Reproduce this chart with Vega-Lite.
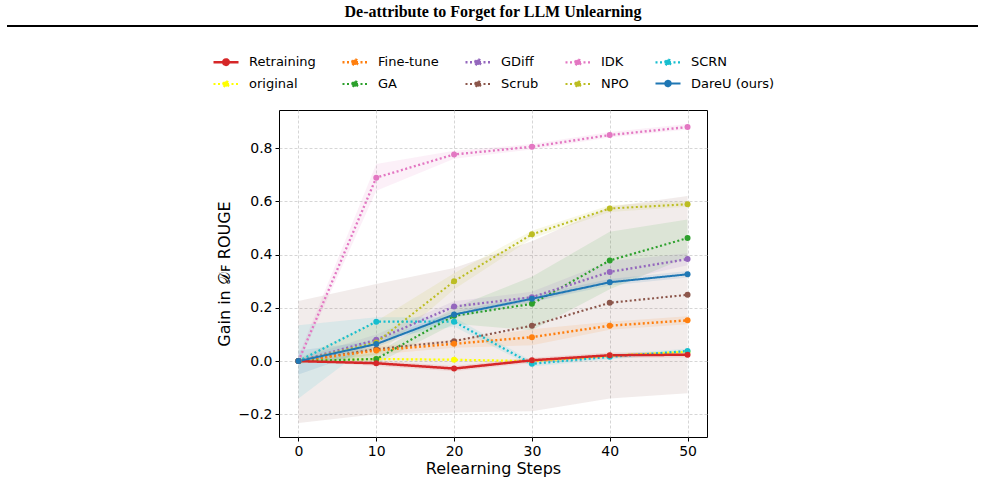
{
  "$schema": "https://vega.github.io/schema/vega-lite/v6.json",
  "width": 428,
  "height": 327,
  "autosize": {"type": "none"},
  "padding": {"left": 279, "top": 110, "right": 278, "bottom": 46},
  "background": "white",
  "title": {"text": "De-attribute to Forget for LLM Unlearning", "font": "Liberation Serif", "fontSize": 16, "fontWeight": "bold", "color": "black", "anchor": "middle", "offset": 5},
  "config": {
    "view": {"stroke": "black", "strokeWidth": 1},
    "axis": {"labelFont": "DejaVu Sans", "labelFontSize": 14, "labelColor": "black", "titleFont": "DejaVu Sans", "titleFontSize": 16, "titleFontWeight": "normal", "titleColor": "black", "tickColor": "black", "tickSize": 4, "domain": false, "grid": true, "gridColor": "#cccccc", "gridDash": [3, 2], "gridWidth": 0.8, "labelPadding": 3},
    "legend": {"labelFont": "DejaVu Sans", "labelFontSize": 13, "labelColor": "black"}
  },
  "data": {"values": [
    {"series": "Scrub", "step": 0, "mean": 0, "lo": -0.232, "hi": 0.226},
    {"series": "Scrub", "step": 10, "mean": 0.045, "lo": -0.2, "hi": 0.29},
    {"series": "Scrub", "step": 20, "mean": 0.075, "lo": -0.193, "hi": 0.35},
    {"series": "Scrub", "step": 30, "mean": 0.133, "lo": -0.188, "hi": 0.45},
    {"series": "Scrub", "step": 40, "mean": 0.219, "lo": -0.14, "hi": 0.58},
    {"series": "Scrub", "step": 50, "mean": 0.249, "lo": -0.121, "hi": 0.62},
    {"series": "original", "step": 0, "mean": 0, "lo": -0.005, "hi": 0.005},
    {"series": "original", "step": 10, "mean": 0.008, "lo": 0.003, "hi": 0.013},
    {"series": "original", "step": 20, "mean": 0.005, "lo": 0.0, "hi": 0.01},
    {"series": "original", "step": 30, "mean": 0.0, "lo": -0.005, "hi": 0.005},
    {"series": "original", "step": 40, "mean": 0.02, "lo": 0.015, "hi": 0.025},
    {"series": "original", "step": 50, "mean": 0.035, "lo": 0.03, "hi": 0.04},
    {"series": "Fine-tune", "step": 0, "mean": 0, "lo": -0.01, "hi": 0.01},
    {"series": "Fine-tune", "step": 10, "mean": 0.04, "lo": 0.025, "hi": 0.055},
    {"series": "Fine-tune", "step": 20, "mean": 0.065, "lo": 0.05, "hi": 0.08},
    {"series": "Fine-tune", "step": 30, "mean": 0.09, "lo": 0.06, "hi": 0.12},
    {"series": "Fine-tune", "step": 40, "mean": 0.133, "lo": 0.118, "hi": 0.148},
    {"series": "Fine-tune", "step": 50, "mean": 0.153, "lo": 0.138, "hi": 0.168},
    {"series": "GA", "step": 0, "mean": 0, "lo": 0, "hi": 0},
    {"series": "GA", "step": 10, "mean": 0.008, "lo": -0.01, "hi": 0.03},
    {"series": "GA", "step": 20, "mean": 0.17, "lo": 0.14, "hi": 0.2},
    {"series": "GA", "step": 30, "mean": 0.215, "lo": 0.116, "hi": 0.317},
    {"series": "GA", "step": 40, "mean": 0.378, "lo": 0.27, "hi": 0.486},
    {"series": "GA", "step": 50, "mean": 0.462, "lo": 0.39, "hi": 0.532},
    {"series": "GDiff", "step": 0, "mean": 0, "lo": -0.01, "hi": 0.01},
    {"series": "GDiff", "step": 10, "mean": 0.08, "lo": 0.06, "hi": 0.1},
    {"series": "GDiff", "step": 20, "mean": 0.205, "lo": 0.185, "hi": 0.225},
    {"series": "GDiff", "step": 30, "mean": 0.24, "lo": 0.22, "hi": 0.26},
    {"series": "GDiff", "step": 40, "mean": 0.335, "lo": 0.295, "hi": 0.375},
    {"series": "GDiff", "step": 50, "mean": 0.383, "lo": 0.36, "hi": 0.405},
    {"series": "IDK", "step": 0, "mean": 0, "lo": -0.01, "hi": 0.02},
    {"series": "IDK", "step": 10, "mean": 0.689, "lo": 0.64, "hi": 0.74},
    {"series": "IDK", "step": 20, "mean": 0.776, "lo": 0.76, "hi": 0.79},
    {"series": "IDK", "step": 30, "mean": 0.805, "lo": 0.795, "hi": 0.815},
    {"series": "IDK", "step": 40, "mean": 0.849, "lo": 0.84, "hi": 0.86},
    {"series": "IDK", "step": 50, "mean": 0.879, "lo": 0.87, "hi": 0.89},
    {"series": "NPO", "step": 0, "mean": 0, "lo": -0.01, "hi": 0.01},
    {"series": "NPO", "step": 10, "mean": 0.07, "lo": 0.02, "hi": 0.15},
    {"series": "NPO", "step": 20, "mean": 0.3, "lo": 0.27, "hi": 0.33},
    {"series": "NPO", "step": 30, "mean": 0.476, "lo": 0.46, "hi": 0.49},
    {"series": "NPO", "step": 40, "mean": 0.573, "lo": 0.56, "hi": 0.585},
    {"series": "NPO", "step": 50, "mean": 0.589, "lo": 0.58, "hi": 0.6},
    {"series": "SCRN", "step": 0, "mean": 0, "lo": -0.14, "hi": 0.135},
    {"series": "SCRN", "step": 10, "mean": 0.148, "lo": 0.08, "hi": 0.165},
    {"series": "SCRN", "step": 20, "mean": 0.148, "lo": 0.13, "hi": 0.165},
    {"series": "SCRN", "step": 30, "mean": -0.01, "lo": -0.02, "hi": 0.0},
    {"series": "SCRN", "step": 40, "mean": 0.016, "lo": 0.006, "hi": 0.026},
    {"series": "SCRN", "step": 50, "mean": 0.038, "lo": 0.03, "hi": 0.046},
    {"series": "Retraining", "step": 0, "mean": 0, "lo": 0, "hi": 0},
    {"series": "Retraining", "step": 10, "mean": -0.008, "lo": -0.018, "hi": 0.002},
    {"series": "Retraining", "step": 20, "mean": -0.028, "lo": -0.038, "hi": -0.018},
    {"series": "Retraining", "step": 30, "mean": 0.003, "lo": -0.007, "hi": 0.013},
    {"series": "Retraining", "step": 40, "mean": 0.022, "lo": 0.012, "hi": 0.032},
    {"series": "Retraining", "step": 50, "mean": 0.024, "lo": 0.014, "hi": 0.034},
    {"series": "DareU (ours)", "step": 0, "mean": 0, "lo": -0.05, "hi": 0.04},
    {"series": "DareU (ours)", "step": 10, "mean": 0.064, "lo": 0.052, "hi": 0.076},
    {"series": "DareU (ours)", "step": 20, "mean": 0.175, "lo": 0.163, "hi": 0.187},
    {"series": "DareU (ours)", "step": 30, "mean": 0.234, "lo": 0.222, "hi": 0.246},
    {"series": "DareU (ours)", "step": 40, "mean": 0.296, "lo": 0.284, "hi": 0.308},
    {"series": "DareU (ours)", "step": 50, "mean": 0.326, "lo": 0.314, "hi": 0.338}
  ]},
  "layer": [
    {
      "mark": {"type": "area", "opacity": 0.11, "clip": true},
      "encoding": {
        "x": {"field": "step", "type": "quantitative", "scale": {"domain": [-2.5, 52.5], "nice": false, "zero": false}, "axis": {"values": [0, 10, 20, 30, 40, 50], "title": "Relearning Steps", "titlePadding": 2}},
        "y": {"field": "lo", "type": "quantitative", "scale": {"domain": [-0.285, 0.943], "nice": false, "zero": false}, "axis": {"values": [-0.2, 0, 0.2, 0.4, 0.6, 0.8], "format": ".1f", "title": "Gain in 𝒟ꜰ ROUGE", "titlePadding": 6}},
        "y2": {"field": "hi"},
        "color": {"field": "series", "type": "nominal", "scale": {"domain": ["Retraining", "Fine-tune", "GDiff", "IDK", "SCRN", "original", "GA", "Scrub", "NPO", "DareU (ours)"], "range": ["#d62728", "#ff7f0e", "#9467bd", "#e377c2", "#17becf", "#ffff00", "#2ca02c", "#8c564b", "#bcbd22", "#1f77b4"]}, "legend": {
          "orient": "none", "legendX": -67, "legendY": -62, "direction": "horizontal", "columns": 5, "title": null,
          "symbolType": "M-1,0H1M-0.22,0A0.22,0.22,0,1,1,0.22,0A0.22,0.22,0,1,1,-0.22,0Z",
          "symbolSize": 625, "symbolStrokeWidth": 2, "symbolOpacity": 1, "labelOffset": 9, "columnPadding": 21, "rowPadding": -9, "padding": 0
        }}
      }
    },
    {
      "mark": {"type": "line", "clip": true},
      "encoding": {
        "x": {"field": "step", "type": "quantitative"},
        "y": {"field": "mean", "type": "quantitative"},
        "color": {"field": "series", "type": "nominal"},
        "strokeDash": {"field": "series", "type": "nominal", "scale": {"domain": ["Retraining", "Fine-tune", "GDiff", "IDK", "SCRN", "original", "GA", "Scrub", "NPO", "DareU (ours)"], "range": [[1, 0], [2, 2.5], [2, 2.5], [2, 2.5], [2, 2.5], [2, 2.5], [2, 2.5], [2, 2.5], [2, 2.5], [1, 0]]}},
        "strokeWidth": {"field": "series", "type": "nominal", "legend": null, "scale": {"domain": ["Retraining", "Fine-tune", "GDiff", "IDK", "SCRN", "original", "GA", "Scrub", "NPO", "DareU (ours)"], "range": [2.5, 2, 2, 2, 2, 2, 2, 2, 2, 2.5]}}
      }
    },
    {
      "mark": {"type": "point", "filled": true, "opacity": 1, "size": 36, "clip": true},
      "encoding": {
        "x": {"field": "step", "type": "quantitative"},
        "y": {"field": "mean", "type": "quantitative"},
        "color": {"field": "series", "type": "nominal"}
      }
    },
    {
      "mark": {"type": "rule", "color": "black", "strokeWidth": 2, "clip": false},
      "encoding": {
        "x": {"datum": -37.45},
        "x2": {"datum": 87.32},
        "y": {"datum": 1.2585}
      }
    }
  ]
}
